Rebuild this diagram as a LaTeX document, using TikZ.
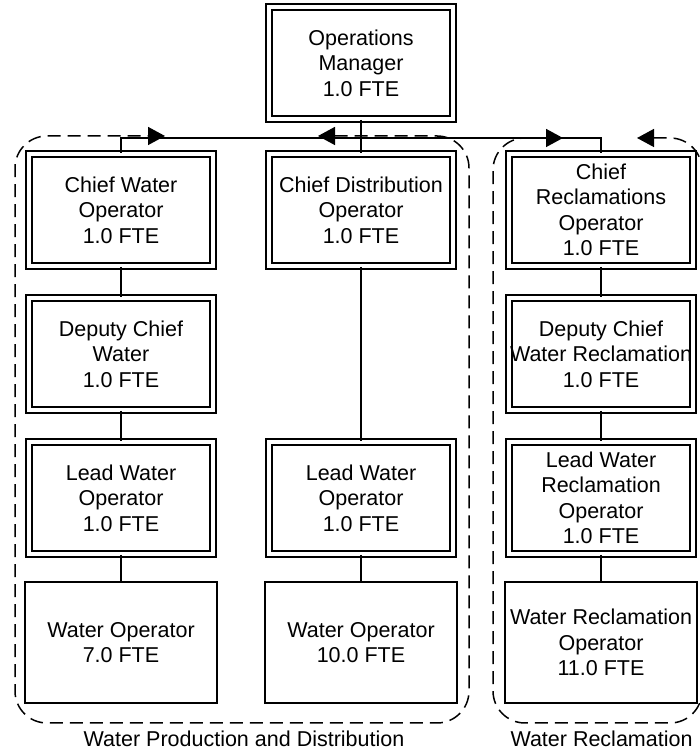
\documentclass[tikz,border=0pt]{standalone}
\usepackage{fontspec}
\setmainfont{Liberation Sans}
\usepackage{tikz}
\usetikzlibrary{arrows.meta, positioning}

\newcommand{\boxfont}{\fontsize{21.5}{25.5}\selectfont}

\begin{document}
\begin{tikzpicture}[
    x=1pt, y=1pt,
    role/.style={draw, double, double distance=4pt, line width=1.7pt, minimum width=184pt, minimum height=112pt, align=center, font=\boxfont, inner sep=0.5pt},
    staff/.style={draw, line width=1.7pt, minimum width=192pt, minimum height=121pt, align=center, font=\boxfont, inner sep=0.5pt},
    group/.style={draw, dash pattern=on 13pt off 7pt, line width=1.5pt, rounded corners=32pt},
    grouplabel/.style={font=\boxfont, anchor=base, inner sep=0pt},
    link/.style={line width=1.6pt},
    >={Triangle[length=17pt, width=18pt]},
    on grid,
    node distance=144pt
]
\useasboundingbox (0,0) rectangle (699,751);

\node[role] (manager) at (361,688) {Operations\\Manager\\1.0 FTE};
\node[role, below=147pt of manager] (chiefdist) {Chief Distribution\\Operator\\1.0 FTE};
\node[role, left=240pt of chiefdist] (chiefwater) {Chief Water\\Operator\\1.0 FTE};
\node[role, right=240pt of chiefdist] (chiefrec) {Chief\\Reclamations\\Operator\\1.0 FTE};

% water production column
\node[role, below=of chiefwater] (deputywater) {Deputy Chief\\Water\\1.0 FTE};
\node[role, below=of deputywater] (leadwater) {Lead Water\\Operator\\1.0 FTE};
\node[staff, below=144.5pt of leadwater] (operwater) {Water Operator\\7.0 FTE};

% distribution column
\node[role, below=288pt of chiefdist] (leaddist) {Lead Water\\Operator\\1.0 FTE};
\node[staff, below=144.5pt of leaddist] (operdist) {Water Operator\\10.0 FTE};

% reclamation column
\node[role, below=of chiefrec] (deputyrec) {Deputy Chief\\Water Reclamation\\1.0 FTE};
\node[role, below=of deputyrec] (leadrec) {Lead Water\\Reclamation\\Operator\\1.0 FTE};
\node[staff, below=144.5pt of leadrec] (operrec) {Water Reclamation\\Operator\\11.0 FTE};

% group outlines
\draw[group, <->] (318,615) -- (469,615) -- (469,28) -- (15,28) -- (15,615) -- (165,615);
\draw[group, <->] (637,613) -- (702,613) -- (702,28) -- (493,28) -- (493,613) -- (563,613);
\node[grouplabel] (prodlabel) at (244,5) {Water Production and Distribution};
\node[grouplabel] (reclabel) at (601.5,5) {Water Reclamation};

\coordinate (bus) at (361,613);
\draw[link] (manager) -- (chiefdist);
\draw[link] (bus) -| (chiefwater);
\draw[link] (bus) -| (chiefrec);
\draw[link] (chiefwater) -- (deputywater);
\draw[link] (deputywater) -- (leadwater);
\draw[link] (leadwater) -- (operwater);
\draw[link] (chiefdist) -- (leaddist);
\draw[link] (leaddist) -- (operdist);
\draw[link] (chiefrec) -- (deputyrec);
\draw[link] (deputyrec) -- (leadrec);
\draw[link] (leadrec) -- (operrec);
\end{tikzpicture}
\end{document}
